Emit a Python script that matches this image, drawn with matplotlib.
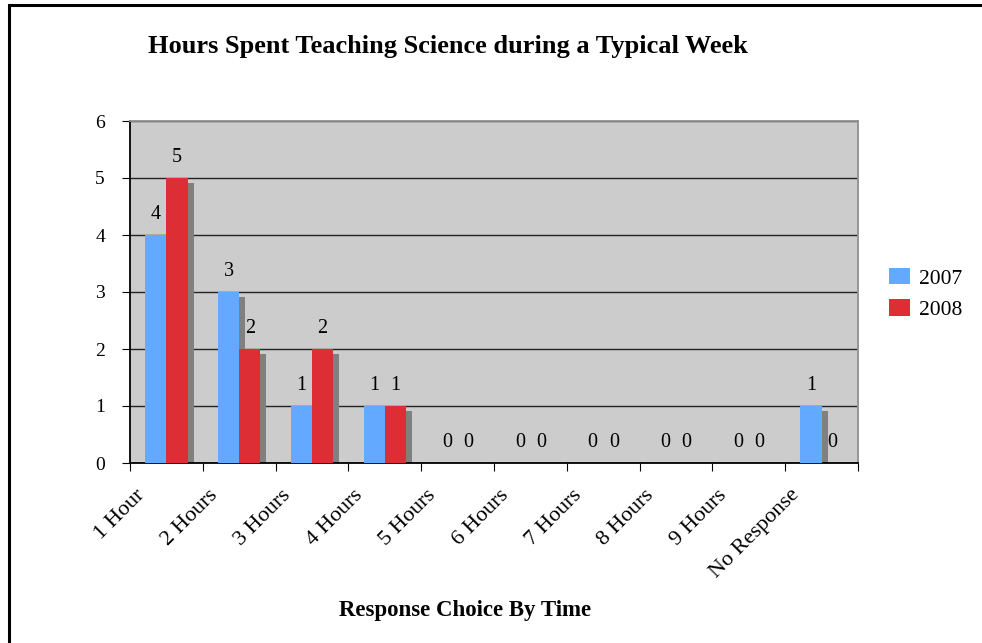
import matplotlib
matplotlib.use("Agg")
import matplotlib.pyplot as plt
import matplotlib.transforms as mtransforms
from matplotlib.patches import Rectangle
import numpy as np

categories = ["1 Hour", "2 Hours", "3 Hours", "4 Hours", "5 Hours",
              "6 Hours", "7 Hours", "8 Hours", "9 Hours", "No Response"]
values_2007 = [4, 3, 1, 1, 0, 0, 0, 0, 0, 1]
values_2008 = [5, 2, 2, 1, 0, 0, 0, 0, 0, 0]
series_labels = ["2007", "2008"]

plt.rcParams["font.family"] = ["Liberation Serif", "DejaVu Serif"]

fig = plt.figure(figsize=(9.82, 6.43), dpi=100)
ax = fig.add_axes([130/982, 1-463/643, (858-130)/982, (463-121)/643])

# outer chart border (left/top visible)
fig.patches.append(Rectangle((9/982, -0.1), 1.1, 1-5/643+0.1, transform=fig.transFigure,
                             fill=False, edgecolor="black", linewidth=2.2))

x = np.arange(len(categories))
w = 0.29
blue = "#62A9FF"
red = "#DE2E35"

shadow = mtransforms.offset_copy(ax.transData, fig=fig, x=6, y=-5, units="dots")
ax.bar(x - w/2, values_2007, w, color="#808080", transform=shadow, zorder=2)
ax.bar(x + w/2, values_2008, w, color="#808080", transform=shadow, zorder=2)
ax.bar(x - w/2, values_2007, w, color=blue, label=series_labels[0], zorder=3)
ax.bar(x + w/2, values_2008, w, color=red, label=series_labels[1], zorder=3)

for xs, vals in [(x - w/2, values_2007), (x + w/2, values_2008)]:
    for xi, v in zip(xs, vals):
        ax.annotate(str(v), (xi, v), xytext=(0, 11.5), textcoords="offset points",
                    ha="center", va="baseline", fontsize=14.5, zorder=4)

ax.set_facecolor("#CCCCCC")
ax.set_xlim(-0.5, 9.5)
ax.set_ylim(0, 6)
ax.set_yticks(range(7))
ax.yaxis.grid(True, color="#222222", linewidth=1.0)
ax.set_axisbelow(True)
ax.tick_params(axis="y", labelsize=14, length=6, direction="out", pad=12)
ax.set_xticks(np.arange(-0.5, 10, 1))
ax.set_xticklabels([])
ax.tick_params(axis="x", length=6, direction="out")
for i, c in enumerate(categories):
    ax.text(i - 0.43, -0.4, c, rotation=45, ha="right", va="top",
            rotation_mode="anchor", fontsize=16)

for s in ["left", "bottom"]:
    ax.spines[s].set_color("black")
    ax.spines[s].set_linewidth(1.3)
for s in ["right", "top"]:
    ax.spines[s].set_color("#909090")
    ax.spines[s].set_linewidth(1.3)

ax.legend(loc="center left", bbox_to_anchor=(1.016, 0.494), frameon=False,
          fontsize=15.5, handlelength=0.96, handleheight=0.8, labelspacing=0.5,
          handletextpad=0.45)

fig.text(148/982, 1-53/643, "Hours Spent Teaching Science during a Typical Week",
         fontsize=19, fontweight="bold", ha="left", va="baseline")
fig.text(465/982, 1-616/643, "Response Choice By Time",
         fontsize=16.5, fontweight="bold", ha="center", va="baseline")

fig.savefig("out.png", dpi=100)
